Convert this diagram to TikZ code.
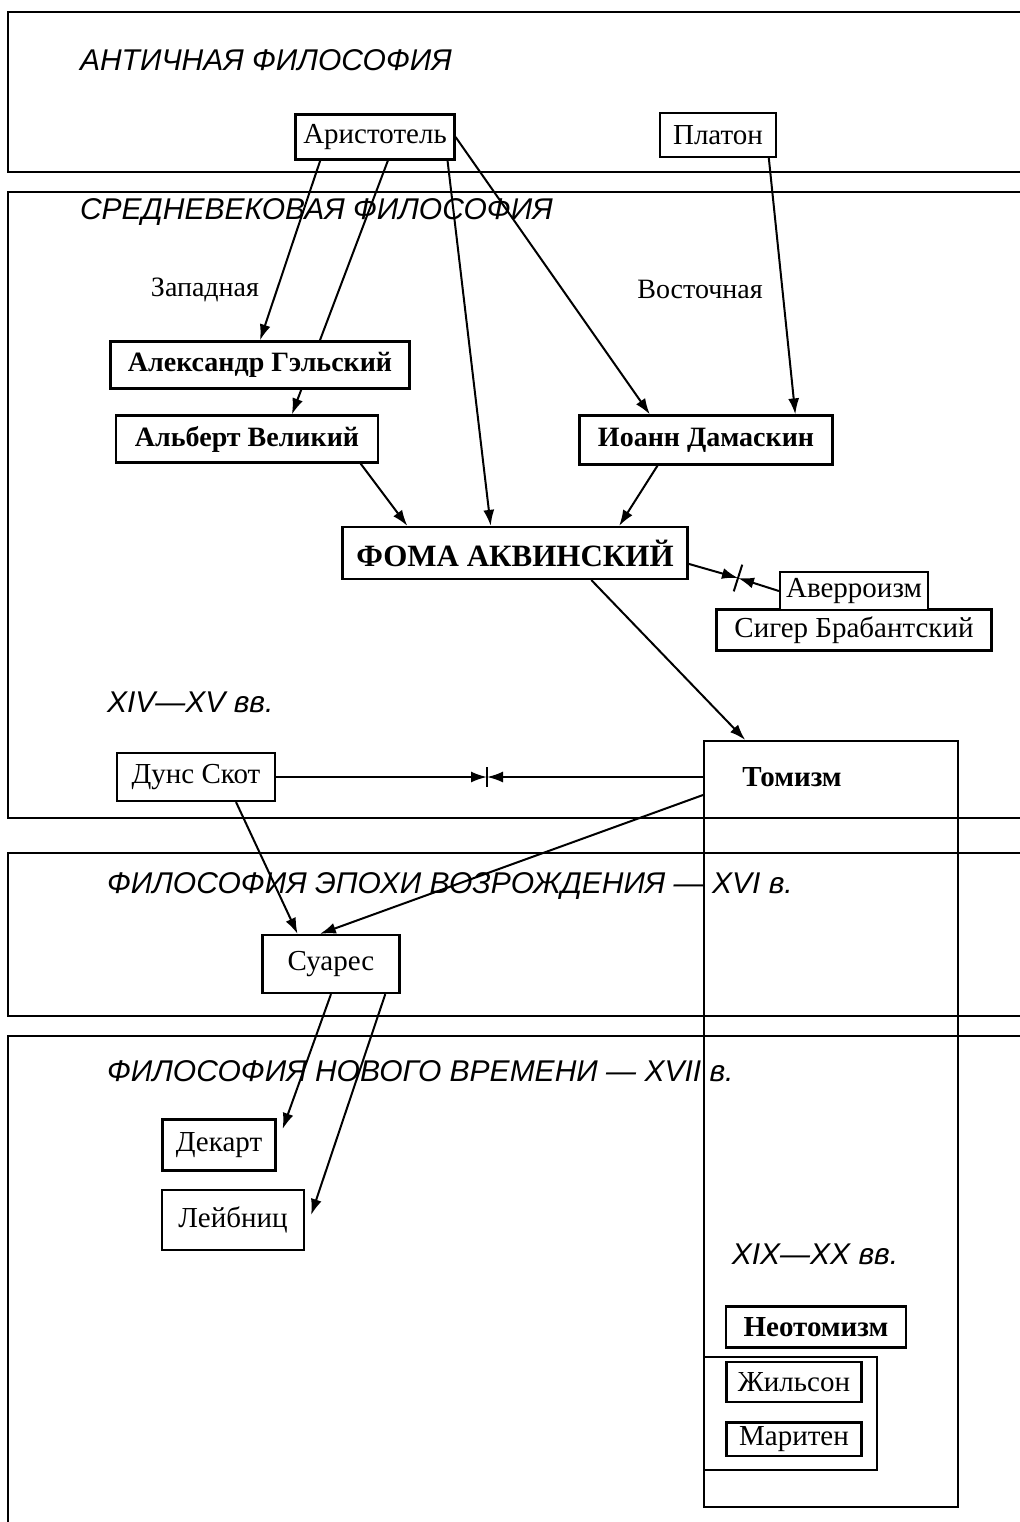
\documentclass[tikz,border=0pt]{standalone}
\usepackage{fontspec}
\setmainfont{Liberation Serif}
\newfontfamily\headfont{Liberation Sans}
\usetikzlibrary{arrows.meta,calc,backgrounds}

\tikzset{
  box/.style={draw, line width=1.1pt, fill=white, inner sep=2pt,
    font=\fontsize{14.5}{17}\selectfont},
  semibox/.style={box, font=\bfseries\fontsize{14}{17}\selectfont},
  bigbox/.style={box, font=\bfseries\fontsize{15.5}{18}\selectfont},
  band/.style={line width=1.2pt},
  era/.style={anchor=west, font=\headfont\itshape\fontsize{15}{18}\selectfont},
  side/.style={font=\fontsize{14}{17}\selectfont},
  arr/.style={line width=1pt, -{Latex[length=8pt,width=5.5pt]}},
}

\begin{document}
\begin{tikzpicture}[x=0.5pt, y=-0.5pt]
    \useasboundingbox (0,0) rectangle (1020,1522);

    % periods
    \draw[band] (1020,12) -| (8,172) -- (1020,172);
    \draw[band] (1020,192) -| (8,818) -- (1020,818);
    \draw[band] (1020,853) -| (8,1016) -- (1020,1016);
    \draw[band] (1020,1036) -| (8,1522);
    \node[era] (antiq) at (73,60) {АНТИЧНАЯ ФИЛОСОФИЯ};
    \node[era] (medi) at (73,212) {СРЕДНЕВЕКОВАЯ ФИЛОСОФИЯ};
    \node[era] (renai) at (100,886) {ФИЛОСОФИЯ ЭПОХИ ВОЗРОЖДЕНИЯ — XVI в.};
    \node[era] (newage) at (100,1071) {ФИЛОСОФИЯ НОВОГО ВРЕМЕНИ — XVII в.};
    \node[era] (late) at (100,702) {XIV—XV вв.};
    \node[era, anchor=center] (modern) at (815,1254) {XIX—XX вв.};
    \node[side] (west) at (205,290) {Западная};
    \node[side] (east) at (700,289) {Восточная};

    % thinkers
    \node[box, minimum width=79.5pt, minimum height=22.5pt] (arist) at (375,137) {Аристотель};
    \node[box, minimum width=58pt, minimum height=22pt] (platon) at (718,135) {Платон};
    \node[semibox, minimum width=149.5pt, minimum height=23.5pt] (alex) at (260,365) {Александр Гэльский};
    \node[semibox, minimum width=131pt, minimum height=23.5pt] (albert) at (247,439) {Альберт Великий};
    \node[semibox, minimum width=126.5pt, minimum height=24.5pt] (ioann) at (706,440) {Иоанн Дамаскин};
    \node[bigbox, minimum width=172.5pt, minimum height=26pt] (foma) at (515,553) {ФОМА АКВИНСКИЙ};
    \node[box, minimum width=137.5pt, minimum height=20.5pt] (siger) at (854,630) {Сигер Брабантский};
    \node[box, minimum width=74pt, minimum height=19pt] (averr) at (854,591) {Аверроизм};
    \node[box, minimum width=79pt, minimum height=24pt] (duns) at (196,777) {Дунс Скот};
    \node[draw, line width=1.1pt, minimum width=127pt, minimum height=383pt, anchor=north west] (tomframe) at (703,740) {};
    \node[font=\bfseries\fontsize{14.5}{17}\selectfont] (tomizm) at (792,777) {Томизм};
    \node[box, minimum width=68.5pt, minimum height=29pt] (suarez) at (331,964) {Суарес};
    \node[box, minimum width=56.5pt, minimum height=25.5pt] (dekart) at (219,1145) {Декарт};
    \node[box, minimum width=71pt, minimum height=30pt] (leibniz) at (233,1220) {Лейбниц};
    \node[box, minimum width=90pt, minimum height=20.5pt, font=\bfseries\fontsize{14.5}{17}\selectfont] (neotom) at (816,1327) {Неотомизм};
    \node[draw, line width=1.1pt, minimum width=86.5pt, minimum height=56.5pt, anchor=north west] (neoframe) at (703,1356) {};
    \node[box, minimum width=67.5pt, minimum height=20pt] (zhilson) at (794,1382) {Жильсон};
    \node[box, minimum width=67.5pt, minimum height=16.5pt] (mariten) at (794,1439) {Маритен};

    % clash points
    \coordinate (clashA) at (738,578);
    \coordinate (clashB) at (487,777);

    \begin{pgfonlayer}{background}
    \fill[white] (0,0) rectangle (1020,1522);
    \draw[arr] ($(arist.south west)!.16!(arist.south east)$) -- (alex.north);
    \draw[arr] ($(arist.south west)!.58!(arist.south east)$) -- ($(albert.north west)!.67!(albert.north east)$);
    \draw[arr] ($(arist.south west)!.95!(arist.south east)$) -- ($(foma.north west)!.43!(foma.north east)$);
    \draw[arr] (arist.east) -- ($(ioann.north west)!.28!(ioann.north east)$);
    \draw[arr] ($(platon.south west)!.93!(platon.south east)$) -- ($(ioann.north west)!.85!(ioann.north east)$);
    \draw[arr] ($(albert.south west)!.93!(albert.south east)$) -- ($(foma.north west)!.19!(foma.north east)$);
    \draw[arr] ($(ioann.south west)!.31!(ioann.south east)$) -- ($(foma.north west)!.80!(foma.north east)$);
    \draw[arr] ($(foma.north east)!.7!(foma.south east)$) -- (clashA);
    \draw[arr] (averr.west) -- (clashA);
    \draw[line width=1pt] ($(clashA)!7pt!90:(averr.west)$) -- ($(clashA)!7pt!-90:(averr.west)$);
    \draw[arr] ($(foma.south west)!.72!(foma.south east)$) -- ($(tomframe.north west)!.165!(tomframe.north east)$);
    \draw[arr] (duns.east) -- (clashB);
    \draw[arr] (duns.east -| tomframe.west) -- (clashB);
    \draw[line width=1pt] ($(clashB)+(0,-10)$) -- ($(clashB)+(0,10)$);
    \draw[arr] ($(duns.south west)!.75!(duns.south east)$) -- ($(suarez.north west)!.26!(suarez.north east)$);
    \draw[arr] ($(tomframe.north west)+(0,55)$) -- ($(suarez.north west)!.42!(suarez.north east)$);
    \draw[arr] (suarez.south) -- ($(dekart.north east)!.2!(dekart.south east)+(6,0)$);
    \draw[arr] ($(suarez.south west)!.89!(suarez.south east)$) -- ($(leibniz.east)+(6,-5)$);
    \end{pgfonlayer}
\end{tikzpicture}
\end{document}
